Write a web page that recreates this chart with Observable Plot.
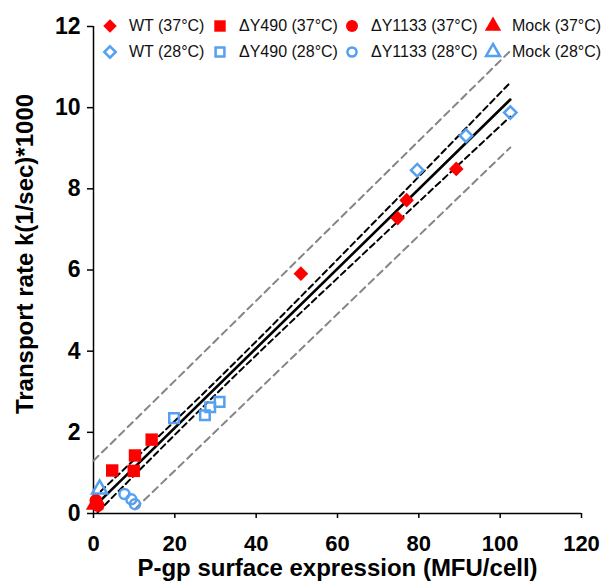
<!DOCTYPE html>
<html><head><meta charset="utf-8">
<script src="https://cdn.jsdelivr.net/npm/d3@7"></script>
<script src="https://cdn.jsdelivr.net/npm/@observablehq/plot@0.6"></script>
<style>
body{margin:0;background:#fff;}
#wrap{position:relative;width:605px;height:584px;font-family:"Liberation Sans",Arial,sans-serif;}
.sym{position:absolute;overflow:visible}
.lab{position:absolute;font-size:16px;color:#111;white-space:nowrap;line-height:18px;transform:translateY(-50%)}
</style></head><body><div id="wrap"></div>
<script>
const RED = "#ff0000", BLUE = "#55a0f0";

// Data: [P-gp surface expression, transport rate]
const wt37     = [[51.0,5.91],[74.8,7.28],[77.0,7.72],[89.2,8.49]];
const wt28     = [[79.6,8.46],[91.6,9.31],[102.5,9.88]];
const dY490_37 = [[4.6,1.06],[9.9,1.05],[10.2,1.43],[14.3,1.82]];
const dY490_28 = [[19.8,2.35],[27.4,2.42],[28.7,2.62],[31.0,2.75]];
const dY1133_37= [[0.6,0.32],[1.1,0.2]];
const dY1133_28= [[7.6,0.48],[9.3,0.35],[10.2,0.23]];
const mock37   = [[0.3,0.22]];
const mock28   = [[1.5,0.6]];

// regression line, 95% confidence band, prediction band
const fitLine = [[0,0.15],[102.5,10.2]];
const ciUpper = [[0,0.38],[20,2.28],[40,4.24],[60,6.26],[80,8.30],[102.5,10.62]];
const ciLower = [[1,0.03],[20,1.94],[40,3.90],[60,5.80],[80,7.68],[102.5,9.78]];
const piUpper = [[0,1.3],[102.5,11.4]];
const piLower = [[10.3,0.12],[102.5,9.02]];

const xTicks = [0,20,40,60,80,100,120];
const yTicks = [0,2,4,6,8,10,12];
const xTitle = "P-gp surface expression (MFU/cell)";
const yTitle = "Transport rate k(1/sec)*1000";

const labels = ["WT (37°C)","ΔY490 (37°C)","ΔY1133 (37°C)","Mock (37°C)",
                "WT (28°C)","ΔY490 (28°C)","ΔY1133 (28°C)","Mock (28°C)"];
const seriesData = [wt37,dY490_37,dY1133_37,mock37,wt28,dY490_28,dY1133_28,mock28];
const symbols = ["diamond2","square","circle","triangle","diamond2","square","circle","triangle"];
const filled  = [true,true,true,true,false,false,false,false];
const radii   = [6.6,7.0,6.5,6.6,5.6,5.4,5.0,5.6];

const series = seriesData.map((data,i)=>({data, label:labels[i], symbol:symbols[i], filled:filled[i], r:radii[i]}));

const X = d=>d[0], Y = d=>d[1];
const FONT = "Liberation Sans, Arial, sans-serif";

const chart = Plot.plot({
  width:605, height:584,
  marginLeft:93, marginRight:24, marginTop:26, marginBottom:71,
  x:{domain:[0,120]}, y:{domain:[0,12]},
  style:{fontFamily:FONT, background:"white", color:"black", overflow:"visible"},
  marks:[
    Plot.axisX({ticks:xTicks, tickSize:5, tickPadding:17, fontSize:22, fontWeight:"bold", label:null, strokeWidth:1.5}),
    Plot.axisY({ticks:yTicks, tickSize:6, tickPadding:7, fontSize:23, fontWeight:"bold", label:null, strokeWidth:1.5}),
    Plot.ruleX([0],{strokeWidth:1.5}),
    Plot.ruleY([0],{strokeWidth:1.5}),
    Plot.line(piUpper,{x:X,y:Y,stroke:"#858585",strokeWidth:2,strokeDasharray:"7,5"}),
    Plot.line(piLower,{x:X,y:Y,stroke:"#858585",strokeWidth:2,strokeDasharray:"7,5"}),
    Plot.line(ciUpper,{x:X,y:Y,stroke:"black",strokeWidth:2,strokeDasharray:"6,4",curve:"natural"}),
    Plot.line(ciLower,{x:X,y:Y,stroke:"black",strokeWidth:2,strokeDasharray:"6,4",curve:"natural"}),
    Plot.line(fitLine,{x:X,y:Y,stroke:"black",strokeWidth:2.6}),
    ...series.map(s=>Plot.dot(s.data, s.filled
      ? {x:X,y:Y,symbol:s.symbol,r:s.r,fill:RED,stroke:"none"}
      : {x:X,y:Y,symbol:s.symbol,r:s.r,fill:"none",stroke:BLUE,strokeWidth:2.5})),
    Plot.text([xTitle],{text:d=>d,frameAnchor:"bottom",lineAnchor:"middle",textAnchor:"middle",dy:55,fontSize:24,fontWeight:"bold",fill:"black"}),
    Plot.text([yTitle],{text:d=>d,frameAnchor:"left",lineAnchor:"middle",textAnchor:"middle",dx:-68,dy:-16,rotate:-90,fontSize:24,fontWeight:"bold",fill:"black"})
  ]
});
const wrap = document.getElementById("wrap");
wrap.appendChild(chart);

// Legend (HTML overlay)
const colX = [110,220,352,493], rowY = [26,52];
const symMap = {diamond2:d3.symbolDiamond2, square:d3.symbolSquare, circle:d3.symbolCircle, triangle:d3.symbolTriangle};
series.forEach((s,i)=>{
  const cx = colX[i%4], cy = rowY[Math.floor(i/4)];
  const ns = "http://www.w3.org/2000/svg";
  const svg = document.createElementNS(ns,"svg");
  svg.setAttribute("class","sym"); svg.setAttribute("width",20); svg.setAttribute("height",20);
  svg.style.left=(cx-10)+"px"; svg.style.top=(cy-10)+"px";
  const p = document.createElementNS(ns,"path");
  p.setAttribute("transform","translate(10,10)");
  const lr = s.r*0.92;
  p.setAttribute("d", d3.symbol(symMap[s.symbol], Math.PI*lr*lr)());
  if (s.filled){ p.setAttribute("fill",RED); }
  else { p.setAttribute("fill","none"); p.setAttribute("stroke",BLUE); p.setAttribute("stroke-width",2.5); }
  svg.appendChild(p); wrap.appendChild(svg);
  const t = document.createElement("div");
  t.className="lab"; t.textContent=s.label;
  t.style.left=(cx+19)+"px"; t.style.top=cy+"px";
  wrap.appendChild(t);
});
</script></body></html>
